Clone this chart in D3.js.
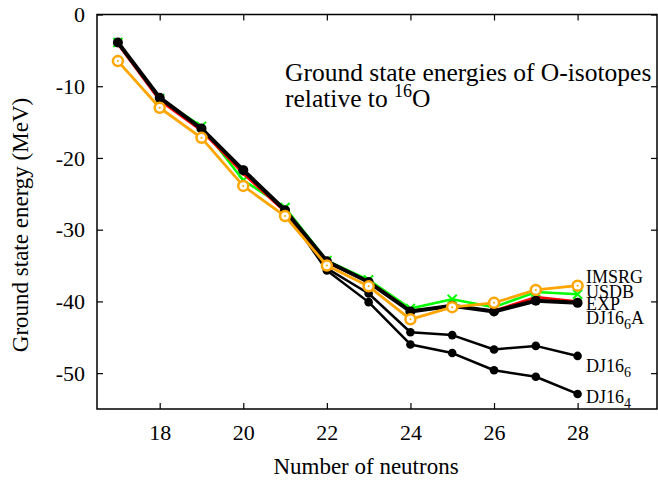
<!DOCTYPE html>
<html>
<head>
<meta charset="utf-8">
<script src="https://cdn.jsdelivr.net/npm/d3@7"></script>
<style>
  html, body { margin: 0; padding: 0; background: #fff; }
  svg { display: block; }
  svg text { font-family: "Liberation Serif", "DejaVu Serif", serif !important; fill: #000; }
</style>
</head>
<body>
<svg id="chart" width="658" height="482"></svg>
<script>
// ---- data ----
const neutrons = [17, 18, 19, 20, 21, 22, 23, 24, 25, 26, 27, 28];
const IMSRG   = [-6.5, -13.0, -17.2, -23.9, -28.1, -35.0, -37.9, -42.5, -40.8, -40.2, -38.4, -37.8];
const USDB    = [-3.9, -11.7, -15.6, -23.1, -26.9, -34.3, -37.0, -41.0, -39.7, -40.8, -38.7, -39.0];
const EXP     = [-4.1, -12.0, -16.2, -22.2, -27.5, -34.6, -37.2, -41.3, -40.7, -41.3, -39.4, -40.0];
const DJ16_6A = [-3.9, -11.6, -15.9, -21.7, -27.3, -34.4, -37.3, -41.4, -40.6, -41.4, -39.9, -40.2];
const DJ16_6  = [-3.9, -11.6, -15.9, -21.7, -27.3, -35.4, -38.9, -44.3, -44.7, -46.7, -46.2, -47.6];
const DJ16_4  = [-3.9, -11.6, -15.9, -21.7, -27.3, -35.7, -40.1, -46.0, -47.2, -49.6, -50.5, -52.9];
const xTicks = [18, 20, 22, 24, 26, 28];
const yTicks = [0, -10, -20, -30, -40, -50];

// ---- layout ----
const svg = d3.select("#chart");
const L = 97, R = 657, T = 14.5, B = 409;
const x = d3.scaleLinear().domain([16.5, 29.9]).range([L, R]);
const y = d3.scaleLinear().domain([-55, 0]).range([B, T]);
const fmt = d => String(d);

// frame
svg.append("rect").attr("x", L).attr("y", T).attr("width", R - L).attr("height", B - T)
  .attr("fill", "none").attr("stroke", "#000").attr("stroke-width", 1.5);

// axes with inward ticks (mirrored)
const tk = 6;
const axB = svg.append("g").attr("transform", `translate(0,${B})`)
  .call(d3.axisBottom(x).tickValues(xTicks).tickSize(-tk).tickPadding(15).tickFormat(fmt));
const axT = svg.append("g").attr("transform", `translate(0,${T})`)
  .call(d3.axisTop(x).tickValues(xTicks).tickSize(-tk).tickFormat(""));
const axL = svg.append("g").attr("transform", `translate(${L},0)`)
  .call(d3.axisLeft(y).tickValues(yTicks).tickSize(-tk).tickPadding(12).tickFormat(fmt));
const axR = svg.append("g").attr("transform", `translate(${R},0)`)
  .call(d3.axisRight(y).tickValues(yTicks).tickSize(-tk).tickFormat(""));
[axB, axT, axL, axR].forEach(g => {
  g.attr("font-family", "Liberation Serif").attr("font-size", 22);
  g.select(".domain").remove();
  g.selectAll(".tick line").attr("stroke", "#000").attr("stroke-width", 1.2);
  g.selectAll("text").attr("fill", "#000").attr("font-size", 22);
});

// axis titles
svg.append("text").attr("x", 366).attr("y", 474).attr("text-anchor", "middle")
  .attr("font-size", 23).text("Number of neutrons");
svg.append("text").attr("transform", "translate(28,225) rotate(-90)").attr("text-anchor", "middle")
  .attr("font-size", 23).text("Ground state energy (MeV)");

// plot title
const t1 = svg.append("text").attr("x", 285).attr("y", 81).attr("font-size", 25.5);
t1.text("Ground state energies of O-isotopes");
const t2 = svg.append("text").attr("x", 285).attr("y", 107).attr("font-size", 25.5);
t2.append("tspan").text("relative to ");
t2.append("tspan").attr("dy", -10).attr("font-size", 18).text("16");
t2.append("tspan").attr("dy", 10).text("O");

// ---- series ----
const line = d3.line().x((d, i) => x(neutrons[i])).y(d => y(d));
function drawLine(vals, color, w) {
  svg.append("path").datum(vals).attr("d", line).attr("fill", "none")
    .attr("stroke", color).attr("stroke-width", w).attr("stroke-linejoin", "round");
}
function dots(vals, color, r) {
  svg.append("g").selectAll("circle").data(vals).join("circle")
    .attr("cx", (d, i) => x(neutrons[i])).attr("cy", d => y(d)).attr("r", r).attr("fill", color);
}

// DJ16_4 and DJ16_6 (thin black)
drawLine(DJ16_4, "#000", 2.5); dots(DJ16_4, "#000", 4.3);
drawLine(DJ16_6, "#000", 2.5); dots(DJ16_6, "#000", 4.3);

// USDB (green, crosses)
drawLine(USDB, "#00ff00", 2.5);
svg.append("g").selectAll("path").data(USDB).join("path")
  .attr("transform", (d, i) => `translate(${x(neutrons[i])},${y(d)})`)
  .attr("d", "M-4.5,-4.5L4.5,4.5M-4.5,4.5L4.5,-4.5")
  .attr("stroke", "#00ff00").attr("stroke-width", 2).attr("fill", "none");

// EXP (red)
drawLine(EXP, "#ff0000", 2.5); dots(EXP, "#ff0000", 2);

// DJ16_6A (thick black)
drawLine(DJ16_6A, "#000", 4); dots(DJ16_6A, "#000", 5);

// IMSRG (orange open circles)
drawLine(IMSRG, "#ffa500", 2.8);
const og = svg.append("g");
og.selectAll("circle.o").data(IMSRG).join("circle").attr("class", "o")
  .attr("cx", (d, i) => x(neutrons[i])).attr("cy", d => y(d)).attr("r", 5)
  .attr("fill", "#fff").attr("stroke", "#ffa500").attr("stroke-width", 2.5);
og.selectAll("circle.c").data(IMSRG).join("circle").attr("class", "c")
  .attr("cx", (d, i) => x(neutrons[i])).attr("cy", d => y(d)).attr("r", 1)
  .attr("fill", "#ffa500");

// ---- series labels ----
const labX = x(28.2);
function label(v, main, sub, tail) {
  const t = svg.append("text").attr("x", labX).attr("y", y(v)).attr("font-size", 18);
  t.append("tspan").text(main);
  if (sub) {
    t.append("tspan").attr("dy", 5).attr("font-size", 14).text(sub);
    if (tail) t.append("tspan").attr("dy", -5).text(tail);
  }
}
label(-37.4, "IMSRG");
label(-39.5, "USDB");
label(-41.2, "EXP");
label(-43.1, "DJ16", "6", "A");
label(-49.8, "DJ16", "6");
label(-54.2, "DJ16", "4");
</script>
</body>
</html>
